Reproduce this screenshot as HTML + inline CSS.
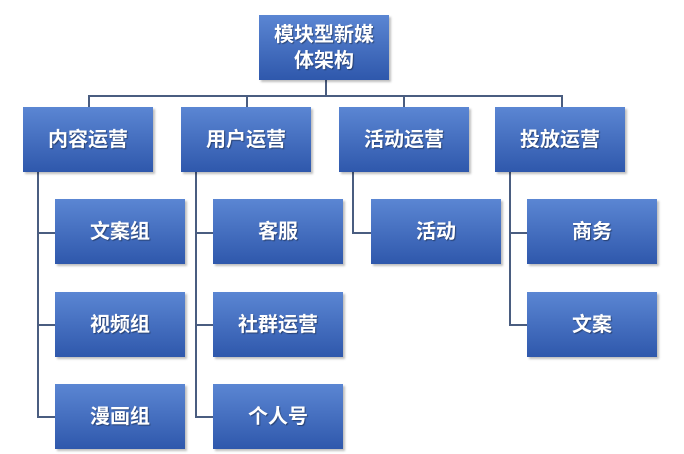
<!DOCTYPE html>
<html><head><meta charset="utf-8"><style>
body{margin:0;width:684px;height:454px;background:#fff;position:relative;overflow:hidden;font-family:"Liberation Sans","Noto Sans CJK SC",sans-serif}
.b{position:absolute;width:130px;height:65px;background:linear-gradient(#5b86d3,#2f58ac);box-shadow:2px 2px 2px rgba(0,0,0,.25);color:#fff;font-weight:bold;font-size:20px;display:flex;align-items:center;justify-content:center;text-align:center;line-height:26px;text-shadow:1px 1px 1px rgba(0,0,0,.4)}
.l{position:absolute;background:#4a5d80}
</style></head><body>
<div class="l" style="left:325px;top:80px;width:2px;height:16px"></div>
<div class="l" style="left:88px;top:95px;width:475px;height:2px"></div>
<div class="l" style="left:88px;top:95px;width:2px;height:12px"></div>
<div class="l" style="left:246px;top:95px;width:2px;height:12px"></div>
<div class="l" style="left:403px;top:95px;width:2px;height:12px"></div>
<div class="l" style="left:561px;top:95px;width:2px;height:12px"></div>
<div class="l" style="left:37px;top:172px;width:2px;height:246px"></div>
<div class="l" style="left:37px;top:232px;width:18px;height:2px"></div>
<div class="l" style="left:37px;top:324px;width:18px;height:2px"></div>
<div class="l" style="left:37px;top:416px;width:18px;height:2px"></div>
<div class="l" style="left:195px;top:172px;width:2px;height:246px"></div>
<div class="l" style="left:195px;top:232px;width:18px;height:2px"></div>
<div class="l" style="left:195px;top:324px;width:18px;height:2px"></div>
<div class="l" style="left:195px;top:416px;width:18px;height:2px"></div>
<div class="l" style="left:352px;top:172px;width:2px;height:62px"></div>
<div class="l" style="left:352px;top:232px;width:19px;height:2px"></div>
<div class="l" style="left:509px;top:172px;width:2px;height:154px"></div>
<div class="l" style="left:509px;top:232px;width:18px;height:2px"></div>
<div class="l" style="left:509px;top:324px;width:18px;height:2px"></div>
<div class="b" style="left:259px;top:15px">模块型新媒<br>体架构</div>
<div class="b" style="left:23px;top:107px">内容运营</div>
<div class="b" style="left:181px;top:107px">用户运营</div>
<div class="b" style="left:339px;top:107px">活动运营</div>
<div class="b" style="left:495px;top:107px">投放运营</div>
<div class="b" style="left:55px;top:199px">文案组</div>
<div class="b" style="left:55px;top:292px">视频组</div>
<div class="b" style="left:55px;top:384px">漫画组</div>
<div class="b" style="left:213px;top:199px">客服</div>
<div class="b" style="left:213px;top:292px">社群运营</div>
<div class="b" style="left:213px;top:384px">个人号</div>
<div class="b" style="left:371px;top:199px">活动</div>
<div class="b" style="left:527px;top:199px">商务</div>
<div class="b" style="left:527px;top:292px">文案</div>
</body></html>
